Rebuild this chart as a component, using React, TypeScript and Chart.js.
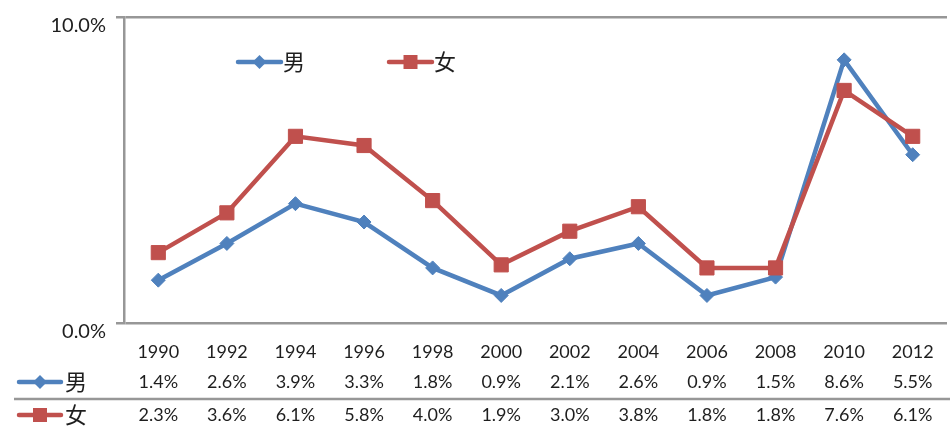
import React, { useEffect, useRef } from 'react';
import { Chart, registerables } from 'chart.js';

Chart.register(...registerables);

const years = ['1990', '1992', '1994', '1996', '1998', '2000', '2002', '2004', '2006', '2008', '2010', '2012'];
const male = [1.4, 2.6, 3.9, 3.3, 1.8, 0.9, 2.1, 2.6, 0.9, 1.5, 8.6, 5.5];
const female = [2.3, 3.6, 6.1, 5.8, 4.0, 1.9, 3.0, 3.8, 1.8, 1.8, 7.6, 6.1];
const seriesNames = ['男', '女'];
const yMin = 0;
const yMax = 10;

const BLUE = '#4F81BD';
const RED = '#C0504D';
const AXIS = '#979797';
const TEXT = '#1e1e1e';
const FONT = 'Lato';
const CJK = '"Noto Sans CJK SC"';

function drawMarker(ctx: CanvasRenderingContext2D, kind: string, x: number, y: number, color: string) {
  ctx.save();
  ctx.fillStyle = color;
  ctx.beginPath();
  if (kind === 'diamond') {
    const r = 7;
    ctx.moveTo(x, y - r);
    ctx.lineTo(x + r, y);
    ctx.lineTo(x, y + r);
    ctx.lineTo(x - r, y);
    ctx.closePath();
  } else {
    const h = 7;
    ctx.rect(x - h, y - h, 2 * h, 2 * h);
  }
  ctx.fill();
  ctx.restore();
}

function legendKey(ctx: CanvasRenderingContext2D, x: number, y: number, w: number, color: string, kind: string) {
  ctx.save();
  ctx.strokeStyle = color;
  ctx.lineWidth = 4.5;
  ctx.lineCap = 'round';
  ctx.beginPath();
  ctx.moveTo(x, y);
  ctx.lineTo(x + w, y);
  ctx.stroke();
  ctx.restore();
  drawMarker(ctx, kind, x + w / 2, y, color);
}

const tablePlugin = {
  id: 'dataTableAndLegend',
  afterDraw(chart: any) {
    const ctx: CanvasRenderingContext2D = chart.ctx;
    const xs = chart.scales.x;
    ctx.save();
    // in-plot legend
    const ly = 62;
    legendKey(ctx, 238, ly, 43, BLUE, 'diamond');
    legendKey(ctx, 389, ly, 43, RED, 'square');
    ctx.fillStyle = TEXT;
    ctx.font = `22px ${CJK}`;
    ctx.textBaseline = 'middle';
    ctx.textAlign = 'left';
    ctx.fillText(seriesNames[0], 283, ly);
    ctx.fillText(seriesNames[1], 434, ly);

    // data table
    const rowYears = 352;
    const rowMale = 382;
    const rowFemale = 415;
    ctx.font = `18px ${FONT}`;
    ctx.textAlign = 'center';
    ctx.textBaseline = 'middle';
    years.forEach((yr, i) => {
      const px = xs.getPixelForValue(i);
      ctx.fillText(yr, px, rowYears);
      ctx.fillText(male[i].toFixed(1) + '%', px, rowMale);
      ctx.fillText(female[i].toFixed(1) + '%', px, rowFemale);
    });
    // separator
    ctx.strokeStyle = AXIS;
    ctx.lineWidth = 2.5;
    ctx.beginPath();
    ctx.moveTo(14, 399);
    ctx.lineTo(chart.width, 399);
    ctx.stroke();
    // row keys
    legendKey(ctx, 19, rowMale, 42, BLUE, 'diamond');
    legendKey(ctx, 19, rowFemale, 42, RED, 'square');
    ctx.font = `22px ${CJK}`;
    ctx.textAlign = 'left';
    ctx.fillStyle = TEXT;
    ctx.fillText(seriesNames[0], 65, rowMale);
    ctx.fillText(seriesNames[1], 65, rowFemale);
    ctx.restore();
  },
};

export default function App() {
  const ref = useRef<HTMLCanvasElement | null>(null);

  useEffect(() => {
    if (!ref.current) return;
    const chart = new Chart(ref.current, {
      type: 'line',
      data: {
        labels: years,
        datasets: [
          {
            label: seriesNames[0],
            data: male,
            borderColor: BLUE,
            backgroundColor: BLUE,
            borderWidth: 4.5,
            pointStyle: 'rectRot',
            pointRadius: 7,
            pointBorderWidth: 1,
            tension: 0,
            order: 1,
          },
          {
            label: seriesNames[1],
            data: female,
            borderColor: RED,
            backgroundColor: RED,
            borderWidth: 4.5,
            pointStyle: 'rect',
            pointRadius: 10,
            pointBorderWidth: 1,
            tension: 0,
            order: 0,
          },
        ],
      },
      options: {
        responsive: false,
        animation: false,
        devicePixelRatio: 1,
        layout: { padding: { left: 0, top: 17, right: 1, bottom: 103 } },
        plugins: {
          legend: { display: false },
          tooltip: { enabled: false },
        },
        scales: {
          x: {
            type: 'category',
            offset: true,
            ticks: { display: false },
            grid: { display: false },
            border: { display: false },
            afterFit: (s: any) => {
              s.height = 0;
              s.paddingLeft = 0;
              s.paddingRight = 0;
            },
          },
          y: {
            min: yMin,
            max: yMax,
            ticks: {
              stepSize: 10,
              padding: 10,
              labelOffset: 9,
              color: TEXT,
              font: { family: FONT, size: 20 },
              callback: (v: any) => Number(v).toFixed(1) + '%',
            },
            grid: {
              color: AXIS,
              lineWidth: 2.5,
              tickLength: 8,
              drawTicks: true,
            },
            border: { display: true, color: AXIS, width: 2.5 },
            afterFit: (s: any) => {
              s.width = 124;
              s.paddingTop = 0;
              s.paddingBottom = 0;
            },
          },
        },
      },
      plugins: [tablePlugin],
    });
    return () => chart.destroy();
  }, []);

  return (
    <div style={{ position: 'absolute', left: 0, top: 0, width: 950, height: 426, overflow: 'hidden', background: '#fff' }}>
      <canvas ref={ref} width={958} height={426} style={{ display: 'block', width: 958, height: 426 }} />
    </div>
  );
}
